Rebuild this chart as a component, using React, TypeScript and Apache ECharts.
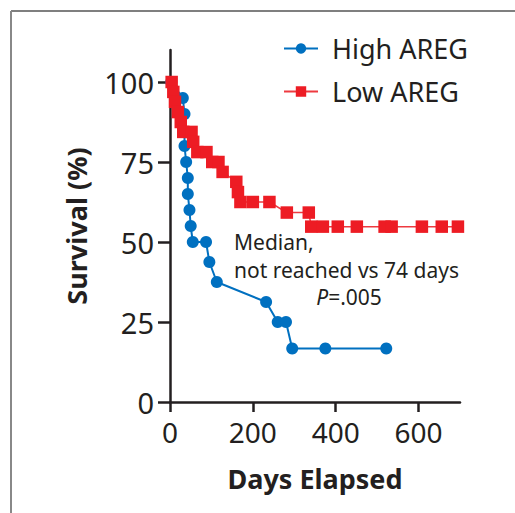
import React, { useEffect, useRef } from 'react';
import * as echarts from 'echarts';

const highDays = [3, 31, 35, 35, 39, 43, 43, 47, 50, 55, 87, 95, 113, 232, 260, 280, 295, 375, 522];
const highSurv = [100, 95, 90, 80, 75, 70, 65, 60, 55, 50, 50, 43.75, 37.5, 31.25, 25, 25, 16.7, 16.7, 16.7];

const lowDays = [4, 8, 12, 19, 26, 32, 52, 56, 66, 88, 102, 117, 127, 160, 164, 170, 200, 240, 282, 335, 341, 369, 405, 451, 518, 535, 608, 656, 695];
const lowSurv = [100, 96.9, 93.8, 90.6, 87.5, 84.4, 84.4, 81.3, 78.1, 78.1, 75, 75, 71.9, 68.8, 65.6, 62.5, 62.5, 62.5, 59.2, 59.2, 54.8, 54.8, 54.8, 54.8, 54.8, 54.8, 54.8, 54.8, 54.8];

const yTicks = [0, 25, 50, 75, 100];
const xTicks = [0, 200, 400, 600];
const seriesNames = ['High AREG', 'Low AREG'];
const noteLines = ['Median,', 'not reached vs 74 days'];
const pLabel = 'P';
const pValue = '=.005';

export default function App() {
  const ref = useRef<HTMLDivElement>(null);
  useEffect(() => {
    const chart = echarts.init(ref.current!, null, { renderer: 'svg' });
    const font = '"Noto Sans", sans-serif';
    const ink = '#231f20';
    const blue = '#0070c0';
    const red = '#ed1c24';
    chart.setOption({
      animation: false,
      backgroundColor: '#ffffff',
      grid: { left: 170, right: 55, top: 50, bottom: 111, containLabel: false },
      legend: {
        orient: 'vertical',
        left: 278,
        top: 30,
        itemWidth: 34,
        itemHeight: 13,
        itemGap: 16,
        textStyle: { fontSize: 27, color: ink, fontFamily: font, padding: [0, 0, 0, 9] },
        data: seriesNames,
      },
      xAxis: {
        type: 'value',
        min: 0,
        max: 700,
        name: 'Days Elapsed',
        nameLocation: 'middle',
        nameGap: 63,
        nameTextStyle: { fontSize: 27, fontWeight: 'bold', color: ink, fontFamily: font },
        axisLine: { show: true, lineStyle: { color: ink, width: 2.5 } },
        axisTick: { show: true, length: 10, lineStyle: { color: ink, width: 2.5 }, customValues: xTicks },
        axisLabel: { fontSize: 28, color: ink, fontFamily: font, margin: 16, customValues: xTicks },
        splitLine: { show: false },
      },
      yAxis: {
        type: 'value',
        min: 0,
        max: 110,
        name: 'Survival (%)',
        nameLocation: 'middle',
        nameGap: 80,
        nameRotate: 90,
        nameTextStyle: { fontSize: 27, fontWeight: 'bold', color: ink, fontFamily: font },
        axisLine: { show: true, lineStyle: { color: ink, width: 2.5 } },
        axisTick: { show: true, length: 12, lineStyle: { color: ink, width: 2.5 }, customValues: yTicks },
        axisLabel: { fontSize: 29, color: ink, fontFamily: font, margin: 16, customValues: yTicks },
        splitLine: { show: false },
      },
      graphic: [
        { type: 'line', shape: { x1: 11, y1: 11, x2: 515, y2: 11 }, style: { stroke: '#555555', lineWidth: 1.5 } },
        { type: 'line', shape: { x1: 11, y1: 11, x2: 11, y2: 513 }, style: { stroke: '#888888', lineWidth: 2 } },
        { type: 'text', x: 234, y: 242, style: { text: noteLines[0], fontSize: 21, fontFamily: font, fill: ink, align: 'left', verticalAlign: 'middle' } },
        { type: 'text', x: 234, y: 269.5, style: { text: noteLines[1], fontSize: 21, fontFamily: font, fill: ink, align: 'left', verticalAlign: 'middle' } },
        {
          type: 'text', x: 349, y: 297,
          style: {
            text: '{i|' + pLabel + '}' + pValue,
            fontSize: 21, fontFamily: font, fill: ink, align: 'center', verticalAlign: 'middle',
            rich: { i: { fontStyle: 'italic', fontSize: 21, fontFamily: font, fill: ink } },
          },
        },
      ],
      series: [
        {
          name: seriesNames[0],
          type: 'line',
          data: highDays.map((d, i) => [d, highSurv[i]]),
          symbol: 'circle',
          symbolSize: 12,
          itemStyle: { color: blue },
          lineStyle: { color: blue, width: 2 },
          clip: false,
          z: 2,
        },
        {
          name: seriesNames[1],
          type: 'line',
          data: lowDays.map((d, i) => [d, lowSurv[i]]),
          symbol: 'rect',
          symbolSize: 12.5,
          itemStyle: { color: red },
          lineStyle: { color: '#ee3a40', width: 1.5 },
          clip: false,
          z: 3,
        },
      ],
    });
    return () => chart.dispose();
  }, []);
  return <div ref={ref} style={{ position: 'fixed', left: 0, top: 0, width: 515, height: 513 }} />;
}
